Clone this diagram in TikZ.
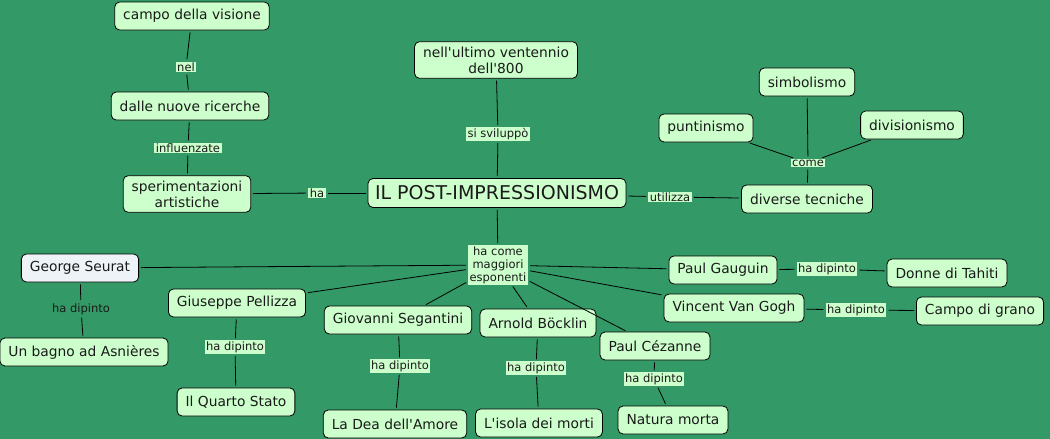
\documentclass[tikz,border=0pt]{standalone}
\usepackage{fontspec}
\setmainfont{DejaVu Sans}[Ligatures=TeXOff]
\definecolor{bg}{HTML}{339966}
\definecolor{box}{HTML}{CCFFCC}
\definecolor{seur}{HTML}{EEF3F7}
\definecolor{txt}{HTML}{1A1A1A}
\tikzset{
  concept/.style={draw=black, line width=0.8pt, fill=box, rounded corners=5pt, text=txt,
    font=\fontsize{13.8}{16}\selectfont, inner xsep=8.5pt, inner ysep=5pt, minimum height=28pt, align=center},
  lbl/.style={fill=box, text=txt, font=\fontsize{11.5}{13}\selectfont, inner xsep=1.5pt, inner ysep=1pt, align=center},
  lblplain/.style={text=txt, font=\fontsize{11.5}{13}\selectfont, inner sep=1pt},
  conn/.style={draw=black, line width=0.8pt, shorten <=2pt, shorten >=2pt}
}
\begin{document}
\begin{tikzpicture}[x=1pt,y=-1pt]
\fill[bg] (0,0) rectangle (1050,439);
\useasboundingbox (0,0) rectangle (1050,439);
% concepts
\node[concept] (campo) at (192,16) {campo della visione};
\node[concept] (dalle) at (190,106) {dalle nuove ricerche};
\node[concept] (sper) at (187,194) {sperimentazioni\\artistiche};
\node[concept, font=\fontsize{19}{22}\selectfont, minimum height=29pt, inner xsep=7pt, inner ysep=3pt] (post) at (497,193) {IL POST-IMPRESSIONISMO};
\node[concept] (ultimo) at (496,60) {nell'ultimo ventennio\\dell'800};
\node[concept] (tecn) at (807,199) {diverse tecniche};
\node[concept] (punt) at (706,128) {puntinismo};
\node[concept] (simb) at (807,82) {simbolismo};
\node[concept] (div) at (912,125) {divisionismo};
\node[concept, fill=seur] (seurat) at (80,268) {George Seurat};
\node[concept] (bagno) at (84,352) {Un bagno ad Asnières};
\node[concept] (pell) at (237,303) {Giuseppe Pellizza};
\node[concept] (quarto) at (236,402) {Il Quarto Stato};
\node[concept] (seg) at (398,320) {Giovanni Segantini};
\node[concept] (dea) at (395,424) {La Dea dell'Amore};
\node[concept] (bock) at (538,323) {Arnold Böcklin};
\node[concept] (isola) at (539,423) {L'isola dei morti};
\node[concept] (cez) at (655,346) {Paul Cézanne};
\node[concept] (natura) at (673,420) {Natura morta};
\node[concept] (gaug) at (723,270) {Paul Gauguin};
\node[concept] (donne) at (947,273) {Donne di Tahiti};
\node[concept] (gogh) at (734,308) {Vincent Van Gogh};
\node[concept] (grano) at (980,311) {Campo di grano};
% linking phrases
\node[lbl] (lnel) at (186,67) {nel};
\node[lbl] (linfl) at (188,148) {influenzate};
\node[lbl] (lha) at (317,193) {ha};
\node[lbl] (lsvil) at (498,134) {si sviluppò};
\node[lbl] (lutil) at (670,197) {utilizza};
\node[lbl] (lcome) at (808,163) {come};
\node[lbl] (lesp) at (498,265) {ha come\\maggiori\\esponenti};
\node[lblplain] (ldseur) at (81,309) {ha dipinto};
\node[lbl] (ldpell) at (235,347) {ha dipinto};
\node[lbl] (ldseg) at (400,366) {ha dipinto};
\node[lbl] (ldbock) at (536,368) {ha dipinto};
\node[lbl] (ldcez) at (654,379) {ha dipinto};
\node[lbl] (ldgaug) at (827,269) {ha dipinto};
\node[lbl] (ldgogh) at (856,310) {ha dipinto};
% connectors
\draw[conn] (dalle) -- (lnel); \draw[conn] (lnel) -- (campo);
\draw[conn] (sper) -- (linfl); \draw[conn] (linfl) -- (dalle);
\draw[conn] (post) -- (lha); \draw[conn] (lha) -- (sper);
\draw[conn] (post) -- (lsvil); \draw[conn] (lsvil) -- (ultimo);
\draw[conn] (post) -- (lutil); \draw[conn] (lutil) -- (tecn);
\draw[conn] (tecn) -- (lcome);
\draw[conn] (lcome) -- (punt); \draw[conn] (lcome) -- (simb); \draw[conn] (lcome) -- (div);
\draw[conn] (post) -- (lesp);
\draw[conn] (lesp) -- (seurat); \draw[conn] (lesp) -- (pell); \draw[conn] (lesp) -- (seg);
\draw[conn] (lesp) -- (bock); \draw[conn] (lesp) -- (cez); \draw[conn] (lesp) -- (gaug);
\draw[conn] (lesp) -- (gogh);
\draw[conn] (seurat) -- (ldseur); \draw[conn] (ldseur) -- (bagno);
\draw[conn] (pell) -- (ldpell); \draw[conn] (ldpell) -- (quarto);
\draw[conn] (seg) -- (ldseg); \draw[conn] (ldseg) -- (dea);
\draw[conn] (bock) -- (ldbock); \draw[conn] (ldbock) -- (isola);
\draw[conn] (cez) -- (ldcez); \draw[conn] (ldcez) -- (natura);
\draw[conn] (gaug) -- (ldgaug); \draw[conn] (ldgaug) -- (donne);
\draw[conn] (gogh) -- (ldgogh); \draw[conn] (ldgogh) -- (grano);
\end{tikzpicture}
\end{document}
